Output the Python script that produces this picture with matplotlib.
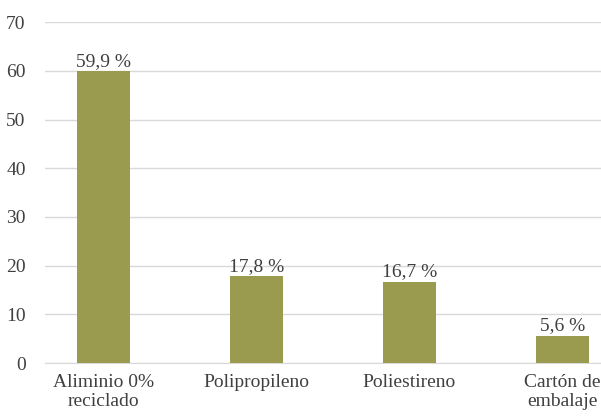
import matplotlib
matplotlib.use("Agg")
import matplotlib.pyplot as plt

categories = ["Aliminio 0%\nreciclado", "Polipropileno", "Poliestireno", "Cartón de\nembalaje"]
values = [59.9, 17.8, 16.7, 5.6]
labels = ["59,9 %", "17,8 %", "16,7 %", "5,6 %"]
yticks = [0, 10, 20, 30, 40, 50, 60, 70]

plt.rcParams['font.family'] = ['Liberation Serif', 'DejaVu Serif']
text_color = "#404040"

fig = plt.figure(figsize=(6.01, 4.16), dpi=100)
ax = fig.add_axes([0.075, 0.127, 0.925, 0.82])

x = list(range(len(categories)))
ax.bar(x, values, width=0.346, color="#9a9b4f", zorder=3)
for xi, v, lab in zip(x, values, labels):
    ax.text(xi, v + 0.3, lab, ha="center", va="bottom", fontsize=14, color=text_color)

ax.set_ylim(0, 70)
ax.set_xlim(-0.379, 3.25)
ax.set_yticks(yticks)
ax.set_yticklabels([str(t) for t in yticks], fontsize=14, color=text_color)
ax.set_xticks(x)
ax.set_xticklabels(categories, fontsize=14, color=text_color, linespacing=1.15)
ax.yaxis.grid(True, color="#d9d9d9", linewidth=1, zorder=0)
for s in ["top", "right", "left"]:
    ax.spines[s].set_visible(False)
ax.spines["bottom"].set_color("#d9d9d9")
ax.tick_params(axis="both", length=0)
ax.tick_params(axis="x", pad=8)
ax.tick_params(axis="y", pad=14)

fig.savefig("out.png", dpi=100)
